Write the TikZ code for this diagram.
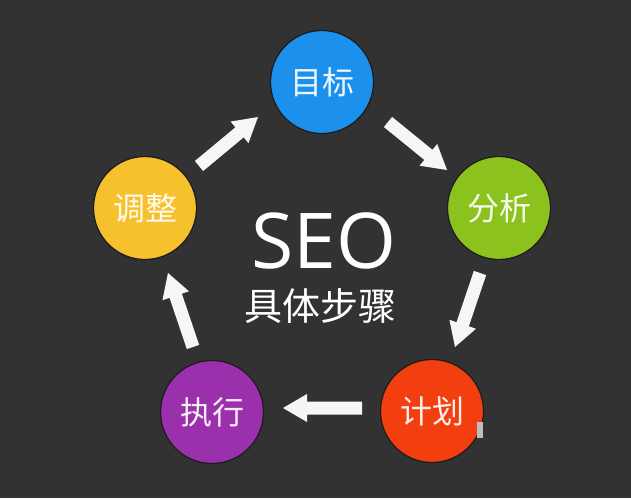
\documentclass[tikz,border=0pt]{standalone}
\usepackage{fontspec}
\newfontfamily\cjk{Noto Sans CJK SC}
\newfontfamily\seofont{Open Sans}
\usetikzlibrary{calc}
\definecolor{bg}{RGB}{50,50,50}
\definecolor{edge}{RGB}{28,28,28}
\definecolor{cblue}{RGB}{27,145,236}
\definecolor{cgreen}{RGB}{140,194,30}
\definecolor{cred}{RGB}{243,62,16}
\definecolor{cpurple}{RGB}{155,48,172}
\definecolor{cyellow}{RGB}{246,193,44}
\definecolor{speck}{RGB}{190,190,190}
\tikzset{
  stepcircle/.style={circle, minimum size=103pt, inner sep=0pt, draw=edge, line width=1.2pt,
    text=white, text opacity=0.92, font=\cjk\fontsize{32}{38}\selectfont},
  arrowfill/.style={fill=white, fill opacity=0.96}
}
\newcommand\blockarrow[2]{%
  \coordinate (#2-base) at ($(#2)!24pt!(#1)$);
  \fill[arrowfill] ($(#1)!6.5pt!90:(#2)$) -- ($(#2-base)!6.5pt!-90:(#1)$)
    -- ($(#2-base)!14pt!-90:(#1)$) -- (#2) -- ($(#2-base)!14pt!90:(#1)$)
    -- ($(#2-base)!6.5pt!90:(#1)$) -- ($(#1)!6.5pt!-90:(#2)$) -- cycle;}
\begin{document}
\begin{tikzpicture}[x=1pt,y=-1pt]
\fill[bg] (0,0) rectangle (631,498);
\useasboundingbox (0,0) rectangle (631,498);

\node[stepcircle, fill=cblue]   (blue)   at (322,82)  {目标};
\node[stepcircle, fill=cgreen]  (green)  at (499,208) {分析};
\node[stepcircle, fill=cred]    (red)    at (432,411) {计划};
\node[stepcircle, fill=cpurple] (purple) at (212,412) {执行};
\node[stepcircle, fill=cyellow] (yellow) at (145,208) {调整};

\node[anchor=base, text=white, inner sep=0pt, font=\seofont\fontsize{77}{80}\selectfont] (seo) at (324,268) {SEO};
\node[anchor=base, text=white, inner sep=0pt, font=\cjk\fontsize{38}{44}\selectfont] (steps) at (320,320) {具体步骤};

\coordinate (a1t) at (199,166); \coordinate (a1h) at (258,117);
\coordinate (a2t) at (388,122); \coordinate (a2h) at (447,170);
\coordinate (a3t) at (480,273); \coordinate (a3h) at (455,347);
\coordinate (a4t) at (362,408); \coordinate (a4h) at (283,408);
\coordinate (a5t) at (193,347); \coordinate (a5h) at (168,273);
\blockarrow{a1t}{a1h}
\blockarrow{a2t}{a2h}
\blockarrow{a3t}{a3h}
\blockarrow{a4t}{a4h}
\blockarrow{a5t}{a5h}

\fill[speck] (477,422) rectangle (483,438);
\end{tikzpicture}
\end{document}
